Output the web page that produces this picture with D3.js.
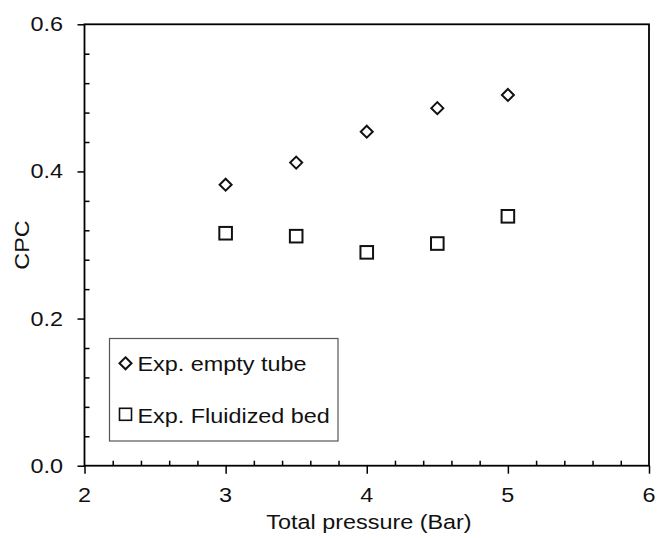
<!DOCTYPE html>
<html>
<head>
<meta charset="utf-8">
<script src="https://cdn.jsdelivr.net/npm/d3@7"></script>
<style>
  body { margin: 0; background: #fff; }
  text { font-family: Arial, "Liberation Sans", sans-serif; fill: #111; }
</style>
</head>
<body>
<svg id="chart" width="657" height="538"></svg>
<script>
// data
var pressure = [3, 3.5, 4, 4.5, 5];
var cpcEmptyTube = [0.382, 0.412, 0.454, 0.486, 0.504];
var cpcFluidized = [0.316, 0.312, 0.290, 0.302, 0.339];
var seriesNames = ['Exp. empty tube', 'Exp. Fluidized bed'];
var xTicks = [2, 3, 4, 5, 6];
var yTicks = [0, 0.2, 0.4, 0.6];

var svg = d3.select('#chart');
var plotL = 84.5, plotR = 649, plotT = 24.3, plotB = 465.7;
var fs = 19.5, stretch = 1.2;

var x = d3.scaleLinear().domain([2, 6]).range([plotL, plotR]);
var y = d3.scaleLinear().domain([0, 0.6]).range([plotB, plotT]);

// frame
svg.append('rect')
    .attr('x', plotL).attr('y', plotT)
    .attr('width', plotR - plotL).attr('height', plotB - plotT)
    .attr('fill', 'none').attr('stroke', '#000').attr('stroke-width', 1.8);

// minor ticks (inside)
var xMinor = d3.range(2, 6.001, 0.2).filter((v) => Math.abs(v - Math.round(v)) > 1e-6);
var yMinor = d3.range(0, 0.6001, 0.04).filter((v) => Math.abs(v / 0.2 - Math.round(v / 0.2)) > 1e-6);

svg.append('g').attr('transform', 'translate(0,' + plotB + ')')
    .call(d3.axisTop(x).tickValues(xMinor).tickSize(5).tickFormat(''))
    .call((g) => g.select('.domain').remove())
    .selectAll('line').attr('stroke-width', 1.5);
svg.append('g').attr('transform', 'translate(' + plotL + ',0)')
    .call(d3.axisRight(y).tickValues(yMinor).tickSize(5).tickFormat(''))
    .call((g) => g.select('.domain').remove())
    .selectAll('line').attr('stroke-width', 1.5);

// major ticks (outside)
svg.append('g').attr('transform', 'translate(0,' + plotB + ')')
    .call(d3.axisBottom(x).tickValues(xTicks).tickSize(8).tickFormat(''))
    .call((g) => g.select('.domain').remove())
    .selectAll('line').attr('stroke-width', 1.5);
svg.append('g').attr('transform', 'translate(' + plotL + ',0)')
    .call(d3.axisLeft(y).tickValues(yTicks).tickSize(7).tickFormat(''))
    .call((g) => g.select('.domain').remove())
    .selectAll('line').attr('stroke-width', 1.5);

// tick labels
svg.selectAll('text.xl').data(xTicks).enter().append('text')
    .attr('class', 'xl')
    .attr('transform', (d) => 'translate(' + x(d) + ',501.7) scale(' + stretch + ',1)')
    .attr('text-anchor', 'middle').style('font-size', fs + 'px')
    .text((d) => d);
svg.selectAll('text.yl').data(yTicks).enter().append('text')
    .attr('class', 'yl')
    .attr('transform', (d) => 'translate(63,' + (y(d) + 7) + ') scale(' + stretch + ',1)')
    .attr('text-anchor', 'end').style('font-size', fs + 'px')
    .text((d) => d.toFixed(1));

// axis titles
svg.append('text')
    .attr('transform', 'translate(369,529) scale(' + stretch + ',1)')
    .attr('text-anchor', 'middle').style('font-size', fs + 'px')
    .text('Total pressure (Bar)');
svg.append('text')
    .attr('transform', 'translate(29,245) rotate(-90) scale(' + stretch + ',1)')
    .attr('text-anchor', 'middle').style('font-size', fs + 'px')
    .text('CPC');

// markers
var diamond = (cx, cy) => 'M' + cx + ',' + (cy - 6) + 'L' + (cx + 6) + ',' + cy +
    'L' + cx + ',' + (cy + 6) + 'L' + (cx - 6) + ',' + cy + 'Z';

svg.append('g').selectAll('path').data(pressure).enter().append('path')
    .attr('d', (d, i) => diamond(x(d), y(cpcEmptyTube[i])))
    .attr('fill', 'none').attr('stroke', '#111').attr('stroke-width', 2);

svg.append('g').selectAll('rect').data(pressure).enter().append('rect')
    .attr('x', (d) => x(d) - 6.3)
    .attr('y', (d, i) => y(cpcFluidized[i]) - 6.3)
    .attr('width', 12.6).attr('height', 12.6)
    .attr('fill', 'none').attr('stroke', '#111').attr('stroke-width', 2);

// legend
var lg = svg.append('g');
lg.append('rect')
    .attr('x', 109.5).attr('y', 338.5).attr('width', 228.5).attr('height', 102.5)
    .attr('fill', '#fff').attr('stroke', '#555').attr('stroke-width', 1.2);
lg.append('path').attr('d', diamond(125.5, 363.3))
    .attr('fill', 'none').attr('stroke', '#111').attr('stroke-width', 2);
lg.append('rect').attr('x', 119.5).attr('y', 408.3).attr('width', 12).attr('height', 12)
    .attr('fill', 'none').attr('stroke', '#111').attr('stroke-width', 1.6);
lg.selectAll('text').data(seriesNames).enter().append('text')
    .attr('transform', (d, i) => 'translate(137.5,' + (370.7 + i * 52) + ') scale(' + stretch + ',1)')
    .style('font-size', fs + 'px')
    .text((d) => d);
</script>
</body>
</html>
